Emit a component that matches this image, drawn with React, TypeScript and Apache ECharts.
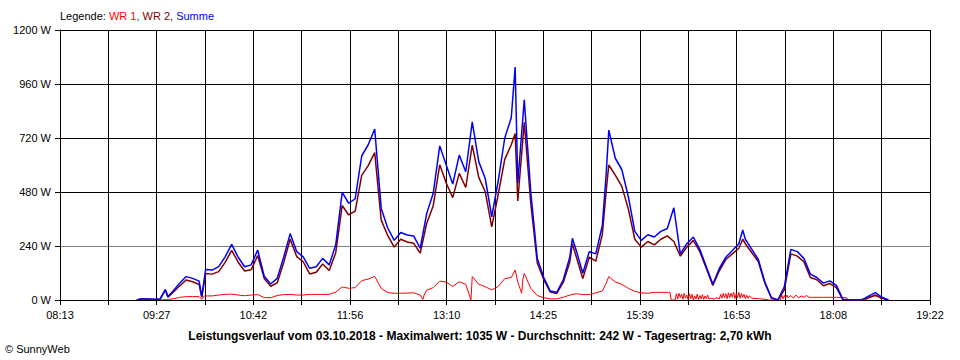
import React, { useEffect, useRef } from "react";
import * as echarts from "echarts";

const FONT = "'Liberation Sans', Arial, sans-serif";

// x axis: 08:13 .. 19:22, 18 grid steps, labels on every second step
const START = "08:13";
const END = "19:22";
const tickLabels = ["08:13", "09:27", "10:42", "11:56", "13:10", "14:25", "15:39", "16:53", "18:08", "19:22"];
const yMax = 1200;
const yStep = 240;

// Summe and WR 2 share these sample times
const times = [
  "09:12", "09:15", "09:20", "09:25", "09:30", "09:34", "09:36", "09:40", "09:45", "09:50",
  "09:55", "10:00", "10:02", "10:05", "10:10", "10:15", "10:20", "10:25", "10:30", "10:35",
  "10:40", "10:45", "10:50", "10:55", "11:00", "11:05", "11:10", "11:15", "11:20", "11:25",
  "11:30", "11:35", "11:40", "11:45", "11:50", "11:55", "12:00", "12:05", "12:10", "12:15",
  "12:20", "12:25", "12:30", "12:35", "12:40", "12:45", "12:50", "12:55", "13:00", "13:05",
  "13:10", "13:15", "13:20", "13:25", "13:30", "13:35", "13:40", "13:45", "13:50", "13:55",
  "14:00", "14:03", "14:05", "14:10", "14:15", "14:20", "14:25", "14:30", "14:35", "14:40",
  "14:45", "14:47", "14:50", "14:55", "15:00", "15:05", "15:10", "15:13", "15:15", "15:20",
  "15:25", "15:30", "15:35", "15:40", "15:45", "15:50", "15:55", "16:00", "16:05", "16:10",
  "16:15", "16:20", "16:25", "16:30", "16:35", "16:40", "16:45", "16:50", "16:55", "16:58",
  "17:00", "17:05", "17:10", "17:15", "17:20", "17:25", "17:30", "17:35", "17:40", "17:45",
  "17:50", "17:55", "18:00", "18:05", "18:10", "18:15", "18:20", "18:25", "18:30", "18:35",
  "18:40", "18:45", "18:50",
];

const sumValues = [
  0, 5, 5, 3, 5, 47, 15, 40, 74, 104,
  96, 84, 15, 136, 133, 148, 192, 247, 190, 148,
  156, 222, 107, 71, 96, 190, 295, 215, 192, 141,
  148, 185, 156, 244, 478, 430, 450, 640, 690, 760,
  407, 320, 265, 300, 289, 284, 230, 385, 474, 685,
  600, 515, 644, 570, 792, 615, 540, 370, 530, 720,
  810, 1035, 519, 890, 480, 185, 100, 40, 34, 90,
  190, 274, 220, 119, 215, 205, 330, 560, 755, 630,
  580, 460, 305, 265, 290, 280, 305, 318, 410, 205,
  250, 280, 225, 148, 70, 140, 190, 220, 250, 311,
  270, 225, 180, 80, 10, 0, 60, 225, 215, 185,
  115, 100, 75, 85, 65, 3, 0, 0, 2, 18,
  33, 12, 0,
];

const wr2Values = [
  0, 4, 4, 2, 4, 44, 12, 35, 62, 89,
  81, 69, 12, 118, 115, 126, 167, 221, 168, 129,
  134, 198, 96, 61, 76, 166, 270, 193, 170, 116,
  123, 160, 131, 209, 420, 378, 395, 554, 597, 655,
  355, 287, 235, 270, 258, 252, 208, 341, 419, 601,
  520, 455, 563, 500, 688, 545, 481, 325, 470, 625,
  690, 740, 440, 790, 430, 165, 90, 35, 29, 78,
  168, 250, 192, 95, 191, 173, 290, 485, 600, 555,
  505, 405, 270, 235, 260, 245, 270, 285, 260, 195,
  235, 265, 215, 140, 65, 130, 180, 205, 230, 270,
  250, 210, 170, 75, 10, 0, 45, 205, 195, 170,
  100, 90, 63, 73, 55, 2, 0, 0, 1, 10,
  22, 8, 0,
];

const wr1Times = [
  "09:30", "09:35", "09:40", "09:45", "09:50", "09:55", "10:00", "10:02", "10:04", "10:10",
  "10:15", "10:20", "10:25", "10:30", "10:35", "10:40", "10:45", "10:50", "10:55", "11:00",
  "11:05", "11:10", "11:15", "11:20", "11:25", "11:30", "11:35", "11:40", "11:45", "11:50",
  "11:55", "12:00", "12:05", "12:10", "12:15", "12:20", "12:25", "12:30", "12:35", "12:40",
  "12:45", "12:50", "12:52", "12:53", "12:55", "13:00", "13:05", "13:10", "13:15", "13:20",
  "13:25", "13:29", "13:30", "13:35", "13:40", "13:45", "13:50", "13:55", "14:00", "14:03",
  "14:05", "14:08", "14:09", "14:10", "14:15", "14:20", "14:25", "14:30", "14:35", "14:40",
  "14:45", "14:50", "14:55", "15:00", "15:05", "15:10", "15:13", "15:15", "15:20", "15:25",
  "15:30", "15:35", "15:40", "15:45", "15:50", "15:55", "16:00", "16:02", "16:03", "16:06",
  "16:07", "16:08", "16:09", "16:10", "16:11", "16:12", "16:13", "16:14", "16:15", "16:16",
  "16:17", "16:18", "16:19", "16:20", "16:21", "16:22", "16:23", "16:24", "16:25", "16:26",
  "16:27", "16:28", "16:29", "16:30", "16:31", "16:32", "16:34", "16:36", "16:38", "16:40",
  "16:41", "16:42", "16:43", "16:44", "16:45", "16:46", "16:47", "16:48", "16:49", "16:50",
  "16:51", "16:52", "16:53", "16:54", "16:55", "16:56", "16:57", "16:58", "16:59", "17:00",
  "17:01", "17:02", "17:03", "17:05", "17:10", "17:15", "17:18", "17:27", "17:28", "17:29",
  "17:30", "17:31", "17:32", "17:33", "17:35", "17:37", "17:39", "17:41", "17:43", "17:45",
  "17:47", "17:49", "17:51", "18:00", "18:10", "18:18", "18:19", "18:33", "18:35", "18:40",
  "18:43", "18:45",
];

const wr1Values = [
  0, 2, 5, 12, 15, 15, 15, 3, 18, 18,
  22, 25, 26, 22, 19, 22, 24, 11, 10, 20,
  24, 25, 22, 22, 25, 25, 25, 25, 35, 58,
  52, 55, 86, 93, 105, 52, 33, 30, 30, 31,
  32, 22, 2, 22, 44, 55, 84, 80, 60, 81,
  70, 0, 104, 70, 59, 45, 60, 95, 100, 133,
  80, 30, 95, 118, 52, 20, 10, 5, 5, 12,
  22, 28, 24, 24, 32, 40, 75, 104, 80, 70,
  52, 38, 32, 30, 34, 34, 34, 34, 0, 0,
  28, 4, 30, 10, 26, 3, 30, 8, 22, 2,
  28, 6, 25, 0, 18, 4, 26, 2, 20, 5,
  24, 3, 18, 6, 22, 5, 8, 4, 10, 5,
  25, 8, 30, 10, 28, 6, 32, 10, 30, 12,
  35, 6, 28, 10, 34, 8, 30, 12, 25, 6,
  22, 8, 18, 8, 6, 3, 0, 0, 22, 6,
  20, 8, 22, 10, 20, 8, 22, 10, 18, 12,
  20, 12, 12, 12, 12, 10, 0, 0, 15, 18,
  12, 0,
];

const legendParts = ["Legende: ", "WR 1, ", "WR 2, ", "Summe"];
const titleText =
  "Leistungsverlauf vom 03.10.2018 - Maximalwert: 1035 W - Durchschnitt: 242 W - Tagesertrag: 2,70 kWh";
const copyrightText = "© SunnyWeb";

const COLORS = { wr1: "#ff0000", wr2: "#800000", sum: "#0000ff" };

function toMin(t: string): number {
  const [h, m] = t.split(":").map(Number);
  return h * 60 + m;
}
const STEPS = (tickLabels.length - 1) * 2;
const startMin = toMin(START);
const spanMin = toMin(END) - startMin;
function toX(t: string): number {
  return ((toMin(t) - startMin) * STEPS) / spanMin;
}

function buildOption(): any {
  const sumData = times.map((t, i) => [toX(t), sumValues[i]]);
  const wr2Data = times.map((t, i) => [toX(t), wr2Values[i]]);
  const wr1Data = wr1Times.map((t, i) => [toX(t), wr1Values[i]]);
  const lineBase = {
    type: "line",
    showSymbol: false,
    symbol: "none",
    silent: true,
  };
  return {
    animation: false,
    backgroundColor: "#ffffff",
    textStyle: { fontFamily: FONT },
    grid: { left: 60, right: 30, top: 30, bottom: 60, containLabel: false },
    xAxis: {
      type: "value",
      min: 0,
      max: STEPS,
      interval: 1,
      axisLine: { show: true, lineStyle: { color: "#000", width: 1 } },
      axisTick: { show: true, length: 5, lineStyle: { color: "#000", width: 1 } },
      splitLine: { show: true, lineStyle: { color: "#000", width: 1 } },
      axisLabel: {
        color: "#000",
        fontSize: 11,
        fontFamily: FONT,
        margin: 9,
        showMinLabel: true,
        showMaxLabel: true,
        formatter: (v: number) => {
          const k = Math.round(v);
          return k % 2 === 0 ? tickLabels[k / 2] : "";
        },
      },
    },
    yAxis: {
      type: "value",
      min: 0,
      max: yMax,
      interval: yStep,
      axisLine: { show: true, lineStyle: { color: "#000", width: 1 } },
      axisTick: { show: true, length: 5, lineStyle: { color: "#000", width: 1 } },
      splitLine: {
        show: true,
        lineStyle: { color: ["#000", "#808080", "#000", "#000", "#000", "#000"], width: 1 },
      },
      axisLabel: {
        color: "#000",
        fontSize: 11,
        fontFamily: FONT,
        margin: 9,
        formatter: (v: number) => String(Math.round(v)) + " W",
      },
    },
    series: [
      { ...lineBase, name: "WR 1", data: wr1Data, lineStyle: { color: COLORS.wr1, width: 1 }, z: 2 },
      { ...lineBase, name: "WR 2", data: wr2Data, lineStyle: { color: COLORS.wr2, width: 1.5 }, z: 3 },
      { ...lineBase, name: "Summe", data: sumData, lineStyle: { color: COLORS.sum, width: 1.5 }, z: 4 },
    ],
    graphic: [
      {
        type: "text",
        left: 60,
        top: 10,
        style: {
          text:
            "{k|" + legendParts[0] + "}{a|" + legendParts[1] + "}{b|" + legendParts[2] + "}{c|" + legendParts[3] + "}",
          font: "11px " + FONT,
          rich: {
            k: { fill: "#000", fontSize: 11, fontFamily: FONT },
            a: { fill: COLORS.wr1, fontSize: 11, fontFamily: FONT },
            b: { fill: COLORS.wr2, fontSize: 11, fontFamily: FONT },
            c: { fill: COLORS.sum, fontSize: 11, fontFamily: FONT },
          },
        },
      },
      {
        type: "text",
        x: 480,
        y: 336,
        style: {
          text: titleText,
          fill: "#000",
          font: "bold 12px " + FONT,
          align: "center",
          verticalAlign: "middle",
        },
      },
      {
        type: "text",
        x: 5,
        y: 349,
        style: {
          text: copyrightText,
          fill: "#000",
          font: "11px " + FONT,
          align: "left",
          verticalAlign: "middle",
        },
      },
    ],
  };
}

export default function App() {
  const ref = useRef<HTMLDivElement>(null);
  useEffect(() => {
    if (!ref.current) return;
    const chart = echarts.init(ref.current, null, { renderer: "svg" });
    chart.setOption(buildOption());
    return () => chart.dispose();
  }, []);
  return (
    <div
      ref={ref}
      style={{ position: "absolute", left: 0, top: 0, width: 960, height: 360, background: "#fff" }}
    />
  );
}
